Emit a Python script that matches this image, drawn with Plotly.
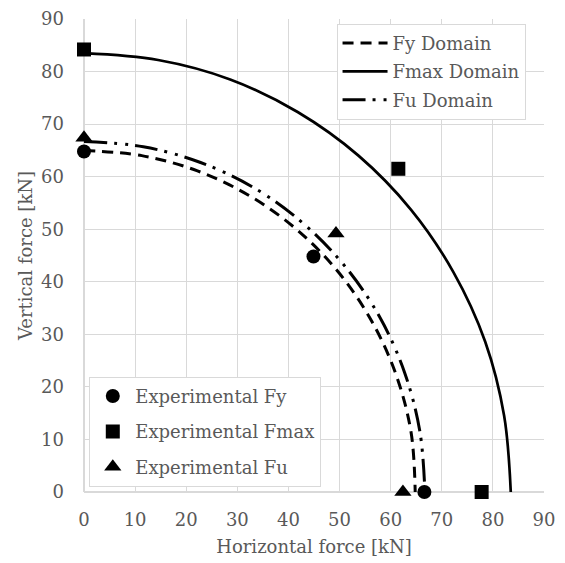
import plotly.graph_objects as go

# Domain curves
fy_dom_x = [0, 11.3, 22.2, 32.5, 41.8, 49.8, 56.3, 61.1, 64.0, 64.8]
fy_dom_y = [65.0, 64.0, 61.1, 56.3, 49.8, 41.8, 32.5, 22.2, 11.3, 0]
fmax_dom_x = [0, 14.5, 28.6, 41.8, 53.7, 64.0, 72.3, 78.5, 82.2, 83.5]
fmax_dom_y = [83.5, 82.2, 78.5, 72.3, 64.0, 53.7, 41.8, 28.6, 14.5, 0]
fu_dom_x = [0, 11.6, 22.8, 33.4, 42.9, 51.1, 57.8, 62.7, 65.7, 66.7]
fu_dom_y = [66.7, 65.7, 62.7, 57.8, 51.1, 42.9, 33.4, 22.8, 11.6, 0]

# Experimental points
exp_fy_x = [0, 44.9, 66.6]
exp_fy_y = [64.8, 44.8, 0]
exp_fmax_x = [0, 61.5, 77.8]
exp_fmax_y = [84.2, 61.5, 0]
exp_fu_x = [0, 49.3, 62.4]
exp_fu_y = [67.4, 49.2, 0]

FONT = "DejaVu Serif"
FS = 18
TXT = "#595959"
GRID = "#d9d9d9"

fig = go.Figure()
fig.add_trace(go.Scatter(x=fy_dom_x, y=fy_dom_y, mode="lines", name="Fy Domain",
                         line=dict(color="black", width=3, dash="11px,7px", shape="spline"),
                         legend="legend", legendgroup="l1", cliponaxis=False))
fig.add_trace(go.Scatter(x=fmax_dom_x, y=fmax_dom_y, mode="lines", name="Fmax Domain",
                         line=dict(color="black", width=2.7, shape="spline"),
                         legend="legend", legendgroup="l2", cliponaxis=False))
fig.add_trace(go.Scatter(x=fu_dom_x, y=fu_dom_y, mode="lines", name="Fu Domain",
                         line=dict(color="black", width=3, dash="23px,7px,3px,8px,3px,7px",
                                   shape="spline"),
                         legend="legend", legendgroup="l3", cliponaxis=False))

fig.add_trace(go.Scatter(x=exp_fy_x, y=exp_fy_y, mode="markers", name="Experimental Fy",
                         marker=dict(symbol="circle", size=14, color="black"),
                         legend="legend2", legendgroup="a", cliponaxis=False))
fig.add_trace(go.Scatter(x=exp_fmax_x, y=exp_fmax_y, mode="markers", name="Experimental Fmax",
                         marker=dict(symbol="square", size=14, color="black"),
                         legend="legend2", legendgroup="b", cliponaxis=False))
fig.add_trace(go.Scatter(x=exp_fu_x, y=exp_fu_y, mode="markers", name="Experimental Fu",
                         marker=dict(symbol="triangle-up", size=15, color="black"),
                         legend="legend2", legendgroup="c", cliponaxis=False))

axis_common = dict(range=[0, 90], dtick=10, showgrid=True, gridcolor=GRID, gridwidth=1,
                   zeroline=True, zerolinecolor=GRID, zerolinewidth=1.5, automargin=False,
                   showline=False, ticks="", tickfont=dict(family=FONT, size=FS, color=TXT))

fig.update_layout(
    width=565, height=563,
    margin=dict(l=84, r=21, t=19, b=71),
    paper_bgcolor="white", plot_bgcolor="white",
    font=dict(family=FONT, size=FS, color=TXT),
    xaxis=dict(**axis_common, ticklabelstandoff=15,
               title=dict(text="Horizontal force [kN]",
                          font=dict(family=FONT, size=FS, color=TXT), standoff=11)),
    yaxis=dict(**axis_common, ticklabelstandoff=19,
               title=dict(text="Vertical force [kN]",
                          font=dict(family=FONT, size=FS, color=TXT), standoff=3)),
    legend=dict(x=0.549, y=0.99, xanchor="left", yanchor="top",
                bgcolor="white", bordercolor=GRID, borderwidth=1, itemwidth=45,
                font=dict(family=FONT, size=FS, color=TXT), tracegroupgap=2),
    legend2=dict(x=0.0115, y=0.011, xanchor="left", yanchor="bottom",
                 bgcolor="white", bordercolor=GRID, borderwidth=1, itemwidth=35,
                 font=dict(family=FONT, size=FS, color=TXT), tracegroupgap=9),
)

fig.write_html("out.html")
